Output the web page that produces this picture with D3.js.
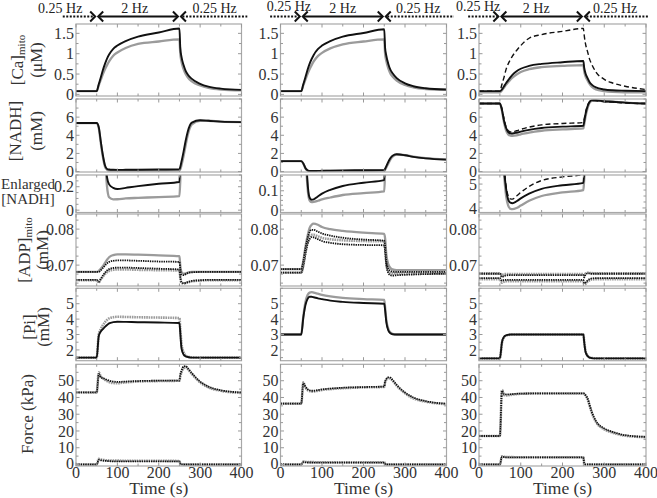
<!DOCTYPE html>
<html><head><meta charset="utf-8">
<script src="https://cdn.jsdelivr.net/npm/d3@7"></script>
<style>body{margin:0;background:#fff}svg{display:block}text{font-family:"Liberation Serif","Times New Roman",serif;fill:#333}</style>
</head><body><svg id="c" width="657" height="498" font-family="Liberation Serif, Times New Roman, serif"></svg>
<script>
// ---- data ----
const T = [0,50,55,60,65,70,75,80,90,100,120,150,200,250,252,255,260,265,270,280,300,320,350,400];

const ca1Black = [0.08,0.08,0.25,0.42,0.6,0.75,0.88,0.98,1.12,1.2,1.31,1.42,1.52,1.62,1.15,0.92,0.72,0.58,0.49,0.38,0.26,0.19,0.14,0.11];
const ca1Gray  = [0.08,0.08,0.22,0.36,0.5,0.62,0.72,0.81,0.95,1.03,1.14,1.24,1.3,1.35,1.0,0.8,0.62,0.5,0.42,0.32,0.22,0.16,0.12,0.1];
const ca2Black = [0.08,0.08,0.25,0.42,0.6,0.75,0.87,0.97,1.11,1.2,1.31,1.42,1.51,1.6,1.15,0.95,0.74,0.6,0.52,0.4,0.27,0.2,0.15,0.12];
const ca2Gray  = [0.08,0.08,0.22,0.36,0.5,0.62,0.72,0.81,0.94,1.02,1.13,1.23,1.3,1.35,1.0,0.82,0.63,0.51,0.44,0.34,0.23,0.17,0.13,0.11];
const ca3Dash  = [0.08,0.08,0.25,0.42,0.62,0.75,0.85,0.94,1.08,1.2,1.38,1.47,1.55,1.62,1.45,1.25,1.05,0.86,0.74,0.55,0.37,0.28,0.2,0.12];
const ca3Black = [0.08,0.08,0.12,0.2,0.28,0.35,0.42,0.48,0.57,0.63,0.7,0.75,0.79,0.82,0.65,0.52,0.4,0.3,0.24,0.17,0.12,0.1,0.09,0.08];
const ca3Gray  = [0.05,0.05,0.1,0.17,0.24,0.3,0.36,0.41,0.49,0.55,0.62,0.67,0.7,0.72,0.57,0.45,0.34,0.25,0.19,0.12,0.08,0.06,0.05,0.05];

const nadh1Black = [5.35,5.35,4.9,3.3,1.8,0.7,0.28,0.22,0.19,0.18,0.19,0.205,0.225,0.24,0.5,1.1,2.2,3.4,4.4,5.4,5.65,5.6,5.5,5.45];
const nadh1Gray  = [5.35,5.35,4.8,3.1,1.6,0.55,0.2,0.11,0.092,0.093,0.1,0.105,0.112,0.12,0.25,0.7,1.7,2.9,4.0,5.2,5.6,5.6,5.5,5.45];
const nadh2Black = [1.15,1.15,0.9,0.4,0.15,0.065,0.053,0.055,0.07,0.085,0.105,0.125,0.142,0.155,0.3,0.6,1.1,1.5,1.75,1.9,1.8,1.62,1.45,1.32];
const nadh2Gray  = [1.15,1.15,0.88,0.35,0.12,0.05,0.041,0.042,0.048,0.055,0.065,0.078,0.088,0.097,0.2,0.45,0.9,1.35,1.65,1.88,1.82,1.65,1.48,1.33];
const nadh3Dash  = [7.5,7.5,6.9,5.8,4.9,4.5,4.38,4.37,4.5,4.65,4.9,5.15,5.3,5.4,5.8,6.5,7.3,7.7,7.85,7.8,7.7,7.65,7.55,7.5];
const nadh3Black = [7.5,7.5,6.8,5.6,4.8,4.35,4.22,4.2,4.28,4.4,4.6,4.8,4.95,5.05,5.5,6.3,7.2,7.7,7.85,7.85,7.75,7.7,7.6,7.5];
const nadh3Gray  = [7.5,7.5,6.7,5.4,4.5,4.1,3.97,3.95,4.0,4.1,4.3,4.5,4.65,4.75,5.2,6.0,7.0,7.6,7.8,7.85,7.75,7.7,7.6,7.5];

const adp1Gray    = [0.0681,0.0681,0.0684,0.069,0.0697,0.0706,0.0715,0.0722,0.0728,0.073,0.073,0.0729,0.0727,0.0725,0.07,0.0681,0.0676,0.0677,0.0679,0.0681,0.0681,0.0681,0.0681,0.0681];
const adp1Black   = [0.0681,0.0681,0.0681,0.0686,0.0692,0.0699,0.0705,0.0709,0.0712,0.0713,0.0713,0.0712,0.071,0.0709,0.069,0.0674,0.0672,0.0675,0.0678,0.068,0.0681,0.0681,0.0681,0.0681];
const adp1LowBlk  = [0.0659,0.0659,0.0654,0.0662,0.0671,0.0679,0.0685,0.0689,0.0692,0.0693,0.0693,0.0692,0.069,0.0688,0.0668,0.0653,0.065,0.0651,0.0653,0.0656,0.0658,0.0659,0.0659,0.0659];
const adp1LowGray = [0.0658,0.0658,0.0652,0.066,0.0668,0.0675,0.068,0.0684,0.0687,0.0688,0.0688,0.0687,0.0686,0.0685,0.0665,0.0651,0.0649,0.065,0.0652,0.0655,0.0657,0.0658,0.0658,0.0658];
const adp2Gray    = [0.0689,0.0689,0.0712,0.075,0.078,0.0803,0.0812,0.0815,0.0812,0.0806,0.08,0.0795,0.079,0.0787,0.0775,0.073,0.0702,0.0692,0.0688,0.0686,0.0686,0.0686,0.0686,0.0686];
const adp2Black   = [0.0689,0.0689,0.071,0.0745,0.0773,0.0792,0.0798,0.0798,0.0793,0.0788,0.0782,0.0776,0.0771,0.0768,0.0755,0.0712,0.069,0.0684,0.0682,0.0681,0.0681,0.0681,0.0681,0.0681];
const adp2LowBlk  = [0.0679,0.0679,0.0698,0.073,0.0758,0.0772,0.0778,0.0777,0.0772,0.0767,0.0762,0.0758,0.0756,0.0755,0.074,0.07,0.0678,0.0672,0.0671,0.0672,0.0673,0.0674,0.0675,0.0676];
const adp2LowGray = [0.0679,0.0679,0.07,0.0735,0.0762,0.0778,0.0784,0.0784,0.078,0.0776,0.0772,0.0769,0.0767,0.0766,0.0752,0.0708,0.0684,0.0678,0.0677,0.0677,0.0677,0.0677,0.0677,0.0677];
const adp3Gray    = [0.0677,0.0677,0.0672,0.0675,0.0675,0.0675,0.0675,0.0675,0.0675,0.0675,0.0675,0.0675,0.0675,0.0675,0.0672,0.0676,0.0679,0.0678,0.0678,0.0677,0.0677,0.0677,0.0677,0.0677];
const adp3Black   = [0.0676,0.0676,0.0667,0.067,0.0671,0.0672,0.0672,0.0672,0.0672,0.0672,0.0672,0.0672,0.0672,0.0672,0.0666,0.0673,0.0677,0.0677,0.0676,0.0676,0.0676,0.0676,0.0676,0.0676];
const adp3LowBlk  = [0.0664,0.0664,0.0656,0.0659,0.0659,0.0659,0.0659,0.0659,0.0659,0.0659,0.0659,0.0659,0.0659,0.0659,0.065,0.0651,0.0657,0.0661,0.0663,0.0664,0.0664,0.0664,0.0664,0.0664];
const adp3LowGray = [0.0661,0.0661,0.0651,0.0654,0.0655,0.0655,0.0655,0.0655,0.0655,0.0655,0.0655,0.0655,0.0655,0.0655,0.0647,0.0648,0.0654,0.0658,0.066,0.0661,0.0661,0.0661,0.0661,0.0661];

const pi1Black = [1.5,1.5,2.9,3.2,3.35,3.5,3.62,3.72,3.8,3.83,3.82,3.8,3.78,3.75,3.1,2.1,1.7,1.58,1.54,1.5,1.5,1.5,1.5,1.5];
const pi1Gray  = [1.5,1.5,3.0,3.35,3.6,3.8,3.95,4.05,4.12,4.15,4.14,4.12,4.1,4.07,3.4,2.4,1.85,1.65,1.57,1.52,1.5,1.5,1.5,1.5];
const pi2Black = [3.0,3.0,4.1,4.9,5.3,5.45,5.45,5.42,5.35,5.3,5.2,5.12,5.05,5.0,4.6,3.8,3.25,3.08,3.02,3.0,3.0,3.0,3.0,3.0];
const pi2Gray  = [3.0,3.0,4.2,5.1,5.55,5.72,5.75,5.72,5.65,5.58,5.48,5.38,5.3,5.25,4.8,3.95,3.35,3.12,3.05,3.0,3.0,3.0,3.0,3.0];
const pi3Black = [1.45,1.45,2.5,2.85,2.95,2.98,3.0,3.0,3.0,3.0,3.0,3.0,3.0,3.0,2.5,1.9,1.6,1.5,1.47,1.45,1.45,1.45,1.45,1.45];
const pi3Gray  = [1.45,1.45,2.45,2.82,2.93,2.97,2.99,3.0,3.0,3.0,3.0,3.0,3.0,3.0,2.55,1.95,1.63,1.52,1.48,1.45,1.45,1.45,1.45,1.45];

const f1Black   = [43,43,54,52,51.5,51,50.5,50,49.5,49.3,49.5,49.8,50,50,53.5,56,58.5,58.7,57.5,54.5,49.5,46.5,44.3,43];
const f1Gray    = [43,43,55,52.5,51.5,50.5,49.8,49.2,48.6,48.5,49,49.5,49.8,50,52.5,55,57.5,58,57,54,49,46,44,42.7];
const f1LowBlk  = [0,0,2.8,2.5,2.3,2.2,2.1,2.0,1.9,1.9,1.9,1.9,1.9,1.9,0.5,0.1,0,0,0,0,0,0,0,0];
const f1LowGray = [0,0,3.4,3.0,2.8,2.6,2.5,2.4,2.3,2.3,2.2,2.2,2.2,2.1,0.6,0.1,0,0,0,0,0,0,0,0];
const f2Black   = [36.3,36.3,48.5,46.5,45,44.3,44,44,44.4,44.8,45.3,45.8,46.2,46.5,49.5,51,52,51.8,50.5,47.5,43,40,37.8,36.3];
const f2Gray    = [36.3,36.3,49,46,44.5,43.8,43.5,43.6,44,44.5,45,45.5,46,46.3,49,50.5,51.5,51.3,50,47,42.5,39.5,37.5,36];
const f2LowBlk  = [0,0,1.4,1.3,1.2,1.2,1.2,1.1,1.1,1.1,1.1,1.1,1.1,1.1,0.3,0,0,0,0,0,0,0,0,0];
const f2LowGray = [0,0,1.8,1.6,1.5,1.4,1.4,1.4,1.3,1.3,1.3,1.3,1.3,1.3,0.4,0,0,0,0,0,0,0,0,0];
const f3Black   = [17,17,44,42,41.8,41.8,41.9,42,42.2,42.3,42.4,42.5,42.5,42.5,42.3,41.5,39.5,35.5,31.5,26,21.5,19.5,17.5,16.5];
const f3Gray    = [17,17,44.5,41.5,41.2,41.3,41.5,41.7,42,42.2,42.3,42.4,42.4,42.4,42.2,41.2,39,35,31,25.5,21,19,17.2,16.3];
const f3LowBlk  = [0,0,4.6,4.4,4.3,4.3,4.2,4.2,4.2,4.2,4.2,4.2,4.2,4.2,0.5,0,0,0,0,0,0,0,0,0];
const f3LowGray = [0,0,4.9,4.6,4.5,4.4,4.4,4.4,4.3,4.3,4.3,4.3,4.3,4.3,0.6,0,0,0,0,0,0,0,0,0];

const xTicks = [0,100,200,300,400];
const caTicks = [0,0.5,1,1.5];
const nadhTicks = [0,2,4,6];
const enlTicks = [[0,0.2],[0,0.1],[4,5]];
const adpTicks = [0.07,0.08];
const piTicks = [2,3,4,5];
const forceTicks = [0,10,20,30,40,50];
const freqLabels = ["0.25 Hz","2 Hz","0.25 Hz"];

// ---- layout ----
const svg = d3.select("#c");
const cols = [{x0:76,x1:241.5},{x0:280.5,x1:446.5},{x0:479,x1:646}];
const rows = {
  ca:{y0:24,y1:96}, nadh:{y0:99,y1:172}, enl:{y0:175,y1:212.5},
  adp:{y0:214,y1:286}, pi:{y0:288.3,y1:360.7}, force:{y0:364.3,y1:466}
};
const GRAY="#9b9b9b", BLACK="#111";
const styles = {
  gray:{stroke:GRAY,w:2.3},
  black:{stroke:BLACK,w:1.9},
  dash:{stroke:BLACK,w:1.4,dash:"5,3"},
  grayMk:{stroke:GRAY,w:2.6,dash:"1.6,0.8"},
  blackMk:{stroke:BLACK,w:1.8,dash:"1.4,0.9"}
};

let clipId=0;
function panel(ci,rowKey,domain,ticks,minorStep,fmt,series,bottom){
  const c=cols[ci], r=rows[rowKey];
  const x=d3.scaleLinear().domain([0,400]).range([c.x0,c.x1]);
  const y=d3.scaleLinear().domain(domain).range([r.y1,r.y0]);
  const g=svg.append("g");
  const id="clip"+(clipId++);
  g.append("clipPath").attr("id",id).append("rect")
    .attr("x",c.x0).attr("y",r.y0).attr("width",c.x1-c.x0).attr("height",r.y1-r.y0);
  const line=d3.line().x((d,i)=>x(T[i])).y(d=>y(d)).curve(d3.curveMonotoneX);
  const lg=g.append("g").attr("clip-path",`url(#${id})`);
  series.forEach(s=>{
    const st=styles[s.style];
    lg.append("path").attr("d",line(s.values)).attr("fill","none")
      .attr("stroke",st.stroke).attr("stroke-width",st.w)
      .attr("stroke-dasharray",st.dash||null).attr("stroke-linejoin","round");
  });
  g.append("rect").attr("x",c.x0).attr("y",r.y0).attr("width",c.x1-c.x0).attr("height",r.y1-r.y0)
    .attr("fill","none").attr("stroke","#a8a8a8").attr("stroke-width",1.2);
  d3.range(0,401,50).forEach(t=>{
    const len = t%100===0?3.5:2.5;
    g.append("line").attr("x1",x(t)).attr("x2",x(t)).attr("y1",r.y1).attr("y2",r.y1-len).attr("stroke","#999");
    g.append("line").attr("x1",x(t)).attr("x2",x(t)).attr("y1",r.y0).attr("y2",r.y0+len).attr("stroke","#999");
  });
  const lo=Math.ceil(domain[0]/minorStep-1e-6), hi=Math.floor(domain[1]/minorStep+1e-6);
  for(let k=lo;k<=hi;k++){
    const v=k*minorStep, yy=y(v);
    const major=ticks.some(t=>Math.abs(t-v)<minorStep*0.01);
    const len=major?3.5:2.5;
    g.append("line").attr("x1",c.x0).attr("x2",c.x0+len).attr("y1",yy).attr("y2",yy).attr("stroke","#999");
    g.append("line").attr("x1",c.x1).attr("x2",c.x1-len).attr("y1",yy).attr("y2",yy).attr("stroke","#999");
  }
  ticks.forEach(v=>{
    const lift = (bottom && v===0) ? -1.5 : 0;
    g.append("text").attr("x",c.x0-2).attr("y",y(v)+lift).attr("dy","0.35em")
      .attr("text-anchor","end").attr("font-size",16).text(fmt(v));
  });
  if(bottom){
    xTicks.forEach(t=>{
      g.append("text").attr("x",x(t)).attr("y",477.5).attr("text-anchor","middle")
        .attr("font-size",16).text(t);
    });
    g.append("text").attr("x",(c.x0+c.x1)/2).attr("y",494).attr("text-anchor","middle")
      .attr("font-size",17.5).text("Time (s)");
  }
  return x;
}
const fmtG = v=>String(+v.toFixed(4));

const colData = [
  {ca:[["gray",ca1Gray],["black",ca1Black]], nadh:[["gray",nadh1Gray],["black",nadh1Black]],
   enlDom:[-0.02,0.3], enlMinor:0.05,
   adp:[["grayMk",adp1LowGray],["blackMk",adp1LowBlk],["gray",adp1Gray],["blackMk",adp1Black]],
   pi:[["grayMk",pi1Gray],["black",pi1Black]],
   force:[["grayMk",f1LowGray],["blackMk",f1LowBlk],["grayMk",f1Gray],["blackMk",f1Black]]},
  {ca:[["gray",ca2Gray],["black",ca2Black]], nadh:[["gray",nadh2Gray],["black",nadh2Black]],
   enlDom:[-0.013,0.182], enlMinor:0.025,
   adp:[["grayMk",adp2LowGray],["blackMk",adp2LowBlk],["gray",adp2Gray],["blackMk",adp2Black]],
   pi:[["gray",pi2Gray],["black",pi2Black]],
   force:[["grayMk",f2LowGray],["blackMk",f2LowBlk],["grayMk",f2Gray],["blackMk",f2Black]]},
  {ca:[["gray",ca3Gray],["black",ca3Black],["dash",ca3Dash]], nadh:[["gray",nadh3Gray],["black",nadh3Black],["dash",nadh3Dash]],
   enlDom:[3.81,5.38], enlMinor:0.25,
   adp:[["grayMk",adp3LowGray],["blackMk",adp3LowBlk],["grayMk",adp3Gray],["blackMk",adp3Black]],
   pi:[["grayMk",pi3Gray],["black",pi3Black]],
   force:[["grayMk",f3LowGray],["blackMk",f3LowBlk],["grayMk",f3Gray],["blackMk",f3Black]]}
];
const toSeries = arr=>arr.map(([style,values])=>({style,values}));

colData.forEach((cd,ci)=>{
  const x = panel(ci,"ca",[-0.04,1.73],caTicks,0.25,fmtG,toSeries(cd.ca));
  panel(ci,"nadh",[-0.05,8.0],nadhTicks,1,fmtG,toSeries(cd.nadh));
  panel(ci,"enl",cd.enlDom,enlTicks[ci],cd.enlMinor,fmtG,toSeries(cd.nadh));
  panel(ci,"adp",[0.0642,0.0842],adpTicks,0.0025,v=>v.toFixed(2),toSeries(cd.adp));
  panel(ci,"pi",[1.3,6.0],piTicks,0.5,fmtG,toSeries(cd.pi));
  panel(ci,"force",[-0.9,59.8],forceTicks,5,fmtG,toSeries(cd.force),true);

  const ay=16.5;
  const leftStart=[-32,-25,-26][ci], rightEnd=[414,418,405][ci];
  const hg=svg.append("g").attr("stroke",BLACK).attr("fill","none").attr("stroke-width",2);
  hg.append("line").attr("x1",x(leftStart)).attr("x2",x(50)-3).attr("y1",ay).attr("y2",ay).attr("stroke-dasharray","2,1.5");
  hg.append("line").attr("x1",x(250)+3).attr("x2",x(rightEnd)).attr("y1",ay).attr("y2",ay).attr("stroke-dasharray","2,1.5");
  hg.append("line").attr("x1",x(50)+2).attr("x2",x(250)-2).attr("y1",ay).attr("y2",ay);
  const chev=(px,dir)=>`M${px-dir*5},${ay-5}L${px},${ay}L${px-dir*5},${ay+5}`;
  hg.append("path").attr("d",chev(x(50)-1.5,1));
  hg.append("path").attr("d",chev(x(50)+1.5,-1));
  hg.append("path").attr("d",chev(x(250)-1.5,1));
  hg.append("path").attr("d",chev(x(250)+1.5,-1));
  const leftC=[-38,20,-2][ci], leftY=[12.5,10.5,10.5][ci];
  const midC=[142,150,137][ci], rightC=[335,332,326][ci];
  svg.append("text").attr("x",x(leftC)).attr("y",leftY).attr("text-anchor","middle").attr("font-size",14).style("fill","#222").text(freqLabels[0]);
  svg.append("text").attr("x",x(midC)).attr("y",12.5).attr("text-anchor","middle").attr("font-size",14).style("fill","#222").text(freqLabels[1]);
  svg.append("text").attr("x",x(rightC)).attr("y",12.5).attr("text-anchor","middle").attr("font-size",14).style("fill","#222").text(freqLabels[2]);
});

function vlabel(cx,cy,parts,size){
  const t=svg.append("text").attr("transform",`translate(${cx},${cy}) rotate(-90)`)
    .attr("text-anchor","middle").attr("font-size",size).attr("dy","0.35em");
  parts.forEach(p=>{
    const ts=t.append("tspan").text(p.t);
    if(p.sub) ts.attr("font-size",size*0.65).attr("dy","0.15em");
  });
}
vlabel(17,60,[{t:"[Ca]"},{t:"mito",sub:true}],17);
vlabel(36,60,[{t:"(μM)"}],17);
vlabel(15,131,[{t:"[NADH]"}],17);
vlabel(36,131,[{t:"(mM)"}],17);
svg.append("text").attr("x",28).attr("y",189).attr("text-anchor","middle").attr("font-size",15).text("Enlarged");
svg.append("text").attr("x",28).attr("y",204).attr("text-anchor","middle").attr("font-size",15).text("[NADH]");
vlabel(24,250,[{t:"[ADP]"},{t:"mito",sub:true}],17);
vlabel(42,250,[{t:"(mM)"}],17);
vlabel(29,327,[{t:"[Pi]"}],17);
vlabel(43,327,[{t:"(mM)"}],17);
vlabel(27,414,[{t:"Force (kPa)"}],17);
</script></body></html>
